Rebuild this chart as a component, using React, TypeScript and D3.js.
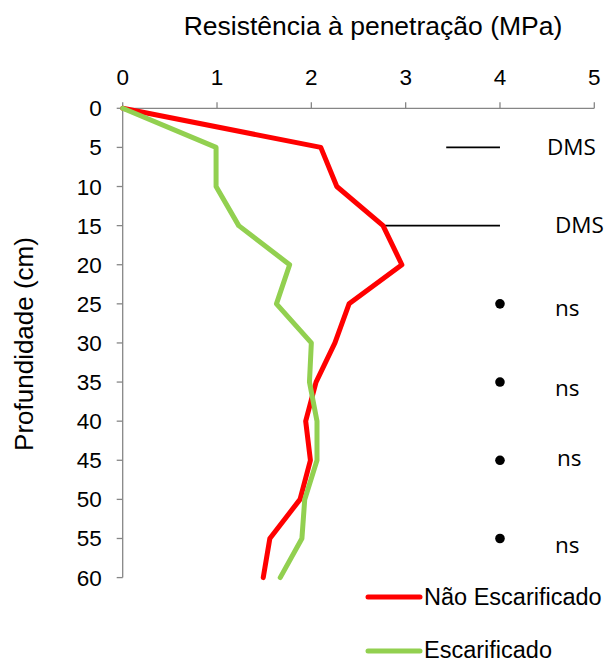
import React from "react";
import * as d3 from "d3";

// Depth of each reading (cm)
const depths = [0, 5, 10, 15, 20, 25, 30, 35, 40, 45, 50, 55, 60];
// Penetration resistance (MPa) per treatment
const naoEscarificado = [0, 2.1, 2.27, 2.76, 2.96, 2.4, 2.25, 2.05, 1.94, 1.99, 1.88, 1.56, 1.49];
const escarificado = [0, 0.99, 0.99, 1.23, 1.77, 1.63, 2.0, 1.98, 2.06, 2.06, 1.93, 1.9, 1.67];

const xTicks = [0, 1, 2, 3, 4, 5];
const yTicks = [0, 5, 10, 15, 20, 25, 30, 35, 40, 45, 50, 55, 60];

// Least significant difference bars (start, end in MPa) at given depth
const dmsDepths = [5, 15];
const dmsStart = [3.43, 2.76];
const dmsEnd = [4, 4];
const dmsLabels = ["DMS", "DMS"];
// Non-significant markers
const nsDepths = [25, 35, 45, 55];
const nsValue = 4;
const nsLabels = ["ns", "ns", "ns", "ns"];

// label placement relative to the marker (px)
const dmsOffsets = [
  { dx: 47, dy: 8 },
  { dx: 55, dy: 7 },
];
const nsOffsets = [
  { dx: 55, dy: 12 },
  { dx: 55, dy: 14 },
  { dx: 57, dy: 6 },
  { dx: 55, dy: 15 },
];

export default function App() {
  const W = 609;
  const H = 661;
  const x = d3.scaleLinear().domain([0, 5]).range([122.7, 594.3]);
  const y = d3.scaleLinear().domain([0, 60]).range([108.3, 577.6]);

  const line = d3
    .line<[number, number]>()
    .x((d) => x(d[0]))
    .y((d) => y(d[1]));

  const redPts = depths.map((d, i) => [naoEscarificado[i], d] as [number, number]);
  const greenPts = depths.map((d, i) => [escarificado[i], d] as [number, number]);

  const axisColor = "#868686";
  const font = "'Liberation Sans', Arial, sans-serif";
  const font2 = "'Open Sans', 'Noto Sans', sans-serif";

  return (
    <svg
      width={W}
      height={H}
      style={{ position: "absolute", left: 0, top: 0, background: "#fff" }}
    >
      {/* title */}
      <text x={373} y={35} textAnchor="middle" fontFamily={font} fontSize={26.5} fill="#000">
        Resistência à penetração (MPa)
      </text>
      {/* y label */}
      <text
        transform={`translate(33,344) rotate(-90)`}
        textAnchor="middle"
        fontFamily={font}
        fontSize={26}
        fill="#000"
      >
        Profundidade (cm)
      </text>

      {/* top x axis */}
      <line x1={x(0)} x2={x(5)} y1={y(0)} y2={y(0)} stroke={axisColor} strokeWidth={1.3} />
      {xTicks.map((t) => (
        <g key={"xt" + t}>
          <line x1={x(t)} x2={x(t)} y1={y(0) - 6} y2={y(0)} stroke={axisColor} strokeWidth={1.3} />
          <text x={x(t)} y={y(0) - 23} textAnchor="middle" fontFamily={font} fontSize={22.5}>
            {t}
          </text>
        </g>
      ))}

      {/* left y axis */}
      <line x1={x(0)} x2={x(0)} y1={y(0)} y2={y(60)} stroke={axisColor} strokeWidth={1.3} />
      {yTicks.map((t) => (
        <g key={"yt" + t}>
          <line x1={x(0) - 6} x2={x(0)} y1={y(t)} y2={y(t)} stroke={axisColor} strokeWidth={1.3} />
          <text
            x={x(0) - 21}
            y={y(t) + 8}
            textAnchor="end"
            fontFamily={font}
            fontSize={22.5}
          >
            {t}
          </text>
        </g>
      ))}

      {/* DMS bars */}
      {dmsDepths.map((d, i) => (
        <g key={"dms" + i}>
          <line
            x1={x(dmsStart[i])}
            x2={x(dmsEnd[i])}
            y1={y(d)}
            y2={y(d)}
            stroke="#000"
            strokeWidth={1.8}
          />
          <text
            x={x(dmsEnd[i]) + dmsOffsets[i].dx}
            y={y(d) + dmsOffsets[i].dy}
            fontFamily={font2}
            fontSize={22.5}
            fill="#000"
          >
            {dmsLabels[i]}
          </text>
        </g>
      ))}

      {/* ns markers */}
      {nsDepths.map((d, i) => (
        <g key={"ns" + i}>
          <circle cx={x(nsValue)} cy={y(d)} r={4.8} fill="#000" />
          <text
            x={x(nsValue) + nsOffsets[i].dx}
            y={y(d) + nsOffsets[i].dy}
            fontFamily={font2}
            fontSize={22.5}
            fill="#000"
          >
            {nsLabels[i]}
          </text>
        </g>
      ))}

      {/* series */}
      <path
        d={line(redPts) || ""}
        fill="none"
        stroke="#ff0000"
        strokeWidth={5}
        strokeLinejoin="round"
        strokeLinecap="round"
      />
      <path
        d={line(greenPts) || ""}
        fill="none"
        stroke="#92d050"
        strokeWidth={5}
        strokeLinejoin="round"
        strokeLinecap="round"
      />

      {/* legend */}
      <line x1={368} x2={420} y1={597} y2={597} stroke="#ff0000" strokeWidth={5} strokeLinecap="round" />
      <text x={424} y={605} fontFamily={font} fontSize={23.5}>
        Não Escarificado
      </text>
      <line x1={368} x2={420} y1={651} y2={651} stroke="#92d050" strokeWidth={5} strokeLinecap="round" />
      <text x={424} y={658} fontFamily={font} fontSize={23.5}>
        Escarificado
      </text>
    </svg>
  );
}
